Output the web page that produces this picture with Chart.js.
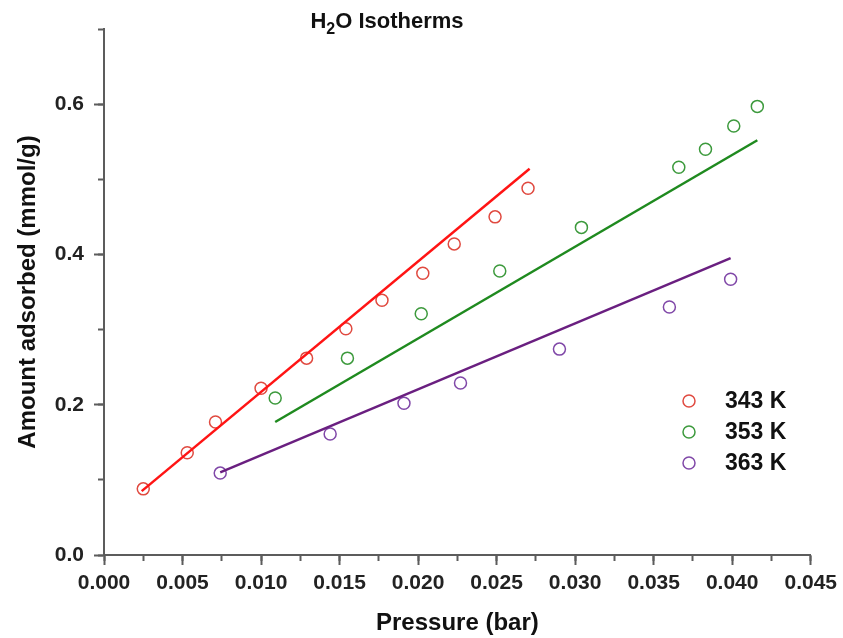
<!DOCTYPE html>
<html>
<head>
<meta charset="utf-8">
<title>H2O Isotherms</title>
<script src="https://cdn.jsdelivr.net/npm/chart.js@4"></script>
<style>
    html, body { margin: 0; padding: 0; background: #fff; }
    canvas { display: block; }
</style>
</head>
<body>
<canvas id="chart" width="843" height="638"></canvas>
<script>
/**
 * Measured points, pressure (bar) and amount adsorbed (mmol/g), one pair of arrays per temperature.
 */
const P_343 = [0.0025, 0.0053, 0.0071, 0.0100, 0.0129, 0.0154, 0.0177, 0.0203, 0.0223, 0.0249, 0.0270];
const Q_343 = [0.088, 0.136, 0.177, 0.222, 0.262, 0.301, 0.339, 0.375, 0.414, 0.450, 0.488];

const P_353 = [0.0109, 0.0155, 0.0202, 0.0252, 0.0304, 0.0366, 0.0383, 0.0401, 0.0416];
const Q_353 = [0.209, 0.262, 0.321, 0.378, 0.436, 0.516, 0.540, 0.571, 0.597];

const P_363 = [0.0074, 0.0144, 0.0191, 0.0227, 0.0290, 0.0360, 0.0399];
const Q_363 = [0.109, 0.161, 0.202, 0.229, 0.274, 0.330, 0.367];

/**
 * Linear fits, start and end of each line.
 */
const FIT_P_343 = [0.0024, 0.0271];
const FIT_Q_343 = [0.085, 0.514];
const FIT_P_353 = [0.0109, 0.0416];
const FIT_Q_353 = [0.177, 0.552];
const FIT_P_363 = [0.0074, 0.0399];
const FIT_Q_363 = [0.110, 0.395];

const LEGEND_LABELS = ['343 K', '353 K', '363 K'];

/**
 * Axis ranges and steps.
 */
const X_MIN = 0;
const X_MAX = 0.045;
const X_MAJOR = 0.005;
const X_MINOR = 0.0025;
const Y_MIN = 0;
const Y_MAX = 0.7;
const Y_MAJOR = 0.2;
const Y_MINOR = 0.1;

const FONT = '"Liberation Sans", Arial, Helvetica, sans-serif';
const AXIS_COLOR = '#5c5c5c';
const MARKER_COLORS = ['#e04a40', '#3d9a3d', '#8048a8'];
const LINE_COLORS = ['#ff1414', '#1f8a1f', '#6a1f80'];

const onDOMLoaded = () => {
    const CTX = document.getElementById('chart').getContext('2d');

    const toPoints = (xs, ys) => xs.map((x, i) => ({ x, y: ys[i] }));

    /**
     * Is the value a whole multiple of the step? Used to hide the extra bound tick (0.7).
     */
    const onStep = (v, step) => Math.abs(v / step - Math.round(v / step)) < 1e-6;

    const markerSet = (label, xs, ys, color) => ({
        label,
        data: toPoints(xs, ys),
        showLine: false,
        pointRadius: 6,
        pointHoverRadius: 6,
        pointBorderWidth: 1.5,
        pointBorderColor: color,
        borderColor: color,
        pointBackgroundColor: 'rgba(0,0,0,0)',
        isMarker: true
    });

    const lineSet = (xs, ys, color) => ({
        label: 'fit',
        data: toPoints(xs, ys),
        showLine: true,
        pointRadius: 0,
        borderColor: color,
        borderWidth: 2.5,
        fill: false
    });

    /**
     * Title with subscript, drawn by hand because Chart.js titles have no rich text.
     */
    const titlePlugin = {
        id: 'subTitle',
        afterDraw: (chart) => {
            const ctx = chart.ctx;
            const big = `bold 22px ${FONT}`;
            const small = `bold 16px ${FONT}`;
            const parts = [['H', big, 0], ['2', small, 6], ['O Isotherms', big, 0]];
            ctx.save();
            ctx.fillStyle = '#111';
            ctx.textBaseline = 'alphabetic';
            let total = 0;
            parts.forEach(([t, f]) => { ctx.font = f; total += ctx.measureText(t).width; });
            let x = 387 - total / 2;
            parts.forEach(([t, f, dy]) => {
                ctx.font = f;
                ctx.fillText(t, x, 28 + dy);
                x += ctx.measureText(t).width;
            });
            ctx.restore();
        }
    };

    /**
     * Legend inside the plot area, markers only.
     */
    const legendPlugin = {
        id: 'innerLegend',
        afterDraw: (chart) => {
            const ctx = chart.ctx;
            const markers = chart.data.datasets.filter((d) => d.isMarker);
            ctx.save();
            markers.forEach((d, i) => {
                const y = 401 + i * 31;
                ctx.beginPath();
                ctx.arc(689, y, 6, 0, Math.PI * 2);
                ctx.lineWidth = 1.5;
                ctx.strokeStyle = d.borderColor;
                ctx.stroke();
                ctx.font = `bold 23px ${FONT}`;
                ctx.fillStyle = '#111';
                ctx.textBaseline = 'middle';
                ctx.fillText(d.label, 725, y + 1);
            });
            ctx.restore();
        }
    };

    const tickFont = { family: FONT, size: 21, weight: 'bold' };
    const titleFont = { family: FONT, size: 24, weight: 'bold' };

    new Chart(CTX, {
        type: 'scatter',
        data: {
            datasets: [
                lineSet(FIT_P_343, FIT_Q_343, LINE_COLORS[0]),
                lineSet(FIT_P_353, FIT_Q_353, LINE_COLORS[1]),
                lineSet(FIT_P_363, FIT_Q_363, LINE_COLORS[2]),
                markerSet(LEGEND_LABELS[0], P_343, Q_343, MARKER_COLORS[0]),
                markerSet(LEGEND_LABELS[1], P_353, Q_353, MARKER_COLORS[1]),
                markerSet(LEGEND_LABELS[2], P_363, Q_363, MARKER_COLORS[2])
            ]
        },
        options: {
            responsive: false,
            animation: false,
            layout: { padding: { top: 29, right: 31, bottom: 0, left: 0 } },
            plugins: {
                legend: { display: false },
                tooltip: { enabled: false }
            },
            scales: {
                x: {
                    type: 'linear',
                    position: 'bottom',
                    weight: 0,
                    min: X_MIN,
                    max: X_MAX,
                    bounds: 'data',
                    afterFit: (s) => { s.height = 83; },
                    border: { display: true, color: AXIS_COLOR, width: 2 },
                    grid: { display: true, drawOnChartArea: false, drawTicks: true, tickLength: 10, tickWidth: 2, tickColor: AXIS_COLOR },
                    ticks: {
                        stepSize: X_MAJOR,
                        includeBounds: false,
                        autoSkip: false,
                        maxRotation: 0,
                        padding: 6,
                        color: '#222',
                        font: tickFont,
                        callback: (v) => v.toFixed(3)
                    },
                    title: { display: true, text: 'Pressure (bar)', color: '#111', font: titleFont, padding: { top: 0, bottom: 0 } }
                },
                xMinor: {
                    type: 'linear',
                    position: 'bottom',
                    weight: -1,
                    min: X_MIN,
                    max: X_MAX,
                    bounds: 'data',
                    afterFit: (s) => { s.height = 0; },
                    border: { display: false },
                    grid: { display: true, drawOnChartArea: false, drawTicks: true, tickLength: 6, tickWidth: 2, tickColor: AXIS_COLOR },
                    ticks: { display: false, stepSize: X_MINOR, autoSkip: false }
                },
                y: {
                    type: 'linear',
                    position: 'left',
                    weight: 0,
                    min: Y_MIN,
                    max: Y_MAX,
                    bounds: 'data',
                    afterFit: (s) => { s.width = 104; },
                    border: { display: true, color: AXIS_COLOR, width: 2 },
                    grid: {
                        display: true,
                        drawOnChartArea: false,
                        drawTicks: true,
                        tickLength: 10,
                        tickWidth: 2,
                        tickColor: (c) => (c.tick && onStep(c.tick.value, Y_MAJOR) ? AXIS_COLOR : 'rgba(0,0,0,0)')
                    },
                    ticks: {
                        stepSize: Y_MAJOR,
                        includeBounds: false,
                        padding: 10,
                        color: '#222',
                        font: tickFont,
                        callback: (v) => (onStep(v, Y_MAJOR) ? v.toFixed(1) : '')
                    },
                    title: { display: true, text: 'Amount adsorbed (mmol/g)', color: '#111', font: titleFont, padding: { top: 14, bottom: 0 } }
                },
                yMinor: {
                    type: 'linear',
                    position: 'left',
                    weight: -1,
                    min: Y_MIN,
                    max: Y_MAX,
                    bounds: 'data',
                    afterFit: (s) => { s.width = 0; },
                    border: { display: false },
                    grid: { display: true, drawOnChartArea: false, drawTicks: true, tickLength: 6, tickWidth: 2, tickColor: AXIS_COLOR },
                    ticks: { display: false, stepSize: Y_MINOR, autoSkip: false }
                }
            }
        },
        plugins: [titlePlugin, legendPlugin]
    });
};

document.addEventListener('DOMContentLoaded', onDOMLoaded);
</script>
</body>
</html>
